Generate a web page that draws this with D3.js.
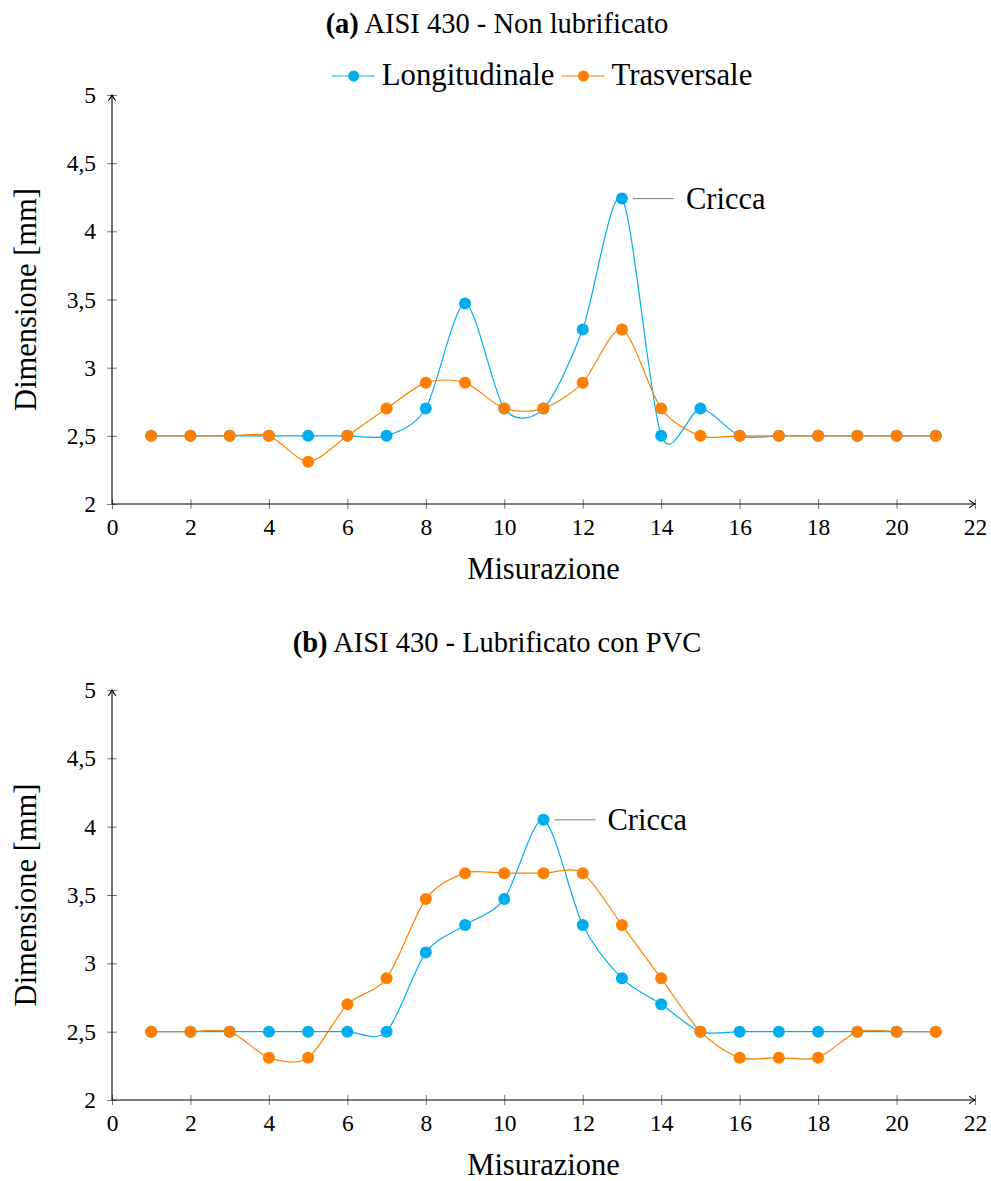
<!DOCTYPE html>
<html>
<head>
<meta charset="utf-8">
<script src="https://cdn.jsdelivr.net/npm/d3@7"></script>
<style>
  html, body { margin: 0; padding: 0; background: #fff; }
  svg { display: block; }
</style>
</head>
<body>
<svg id="chart" width="991" height="1181"></svg>
<script>
// Measurement index (x) and dimensions in mm (y)
const misurazioni = [1,2,3,4,5,6,7,8,9,10,11,12,13,14,15,16,17,18,19,20,21];

// (a) AISI 430 - Non lubrificato
const longitudinaleA = [2.5,2.5,2.5,2.5,2.5,2.5,2.5,2.7,3.47,2.7,2.7,3.28,4.24,2.5,2.7,2.5,2.5,2.5,2.5,2.5,2.5];
const trasversaleA   = [2.5,2.5,2.5,2.5,2.31,2.5,2.7,2.89,2.89,2.7,2.7,2.89,3.28,2.7,2.5,2.5,2.5,2.5,2.5,2.5,2.5];

// (b) AISI 430 - Lubrificato con PVC
const longitudinaleB = [2.5,2.5,2.5,2.5,2.5,2.5,2.5,3.08,3.28,3.47,4.05,3.28,2.89,2.7,2.5,2.5,2.5,2.5,2.5,2.5,2.5];
const trasversaleB   = [2.5,2.5,2.5,2.31,2.31,2.7,2.89,3.47,3.66,3.66,3.66,3.66,3.28,2.89,2.5,2.31,2.31,2.31,2.5,2.5,2.5];

const seriesNames = ["Longitudinale", "Trasversale"];
const seriesColors = ["#00aeef", "#ff8000"];

const xTickValues = [0,2,4,6,8,10,12,14,16,18,20,22];
const yTickValues = [2,2.5,3,3.5,4,4.5,5];
const xDomain = [0, 22];
const yDomain = [2, 5];

const FONT = "'Liberation Serif', 'Times New Roman', 'DejaVu Serif', serif";

const svg = d3.select("#chart");
const defs = svg.append("defs");
defs.append("marker")
  .attr("id", "arrow")
  .attr("viewBox", "-8 -5 10 10")
  .attr("refX", 0).attr("refY", 0)
  .attr("markerWidth", 10).attr("markerHeight", 10)
  .attr("markerUnits", "userSpaceOnUse")
  .attr("orient", "auto")
  .append("path")
  .attr("d", "M-5.5,-3.6 Q-2.2,-0.9 0,0 Q-2.2,0.9 -5.5,3.6")
  .attr("fill", "none").attr("stroke", "#000").attr("stroke-width", 1.1)
  .attr("stroke-linecap", "round");

const fmtTick = d => String(d).replace(".", ",");
const left = 112, right = 975;

function label(sel, size) {
  return sel.style("font-family", FONT).style("font-size", size + "px").attr("fill", "#000");
}

function drawPanel(cfg) {
  const x = d3.scaleLinear().domain(xDomain).range([left, right]);
  const y = d3.scaleLinear().domain(yDomain).range([cfg.bottom, cfg.top]);
  const g = svg.append("g");

  // Title
  const title = label(g.append("text"), 28.5)
    .attr("x", 497).attr("y", cfg.titleY)
    .attr("text-anchor", "middle");
  title.append("tspan").attr("font-weight", "bold").text(cfg.tag);
  title.append("tspan").text(" " + cfg.title);

  // Axes
  const xAxis = d3.axisBottom(x).tickValues(xTickValues).tickFormat(fmtTick)
    .tickSizeInner(5).tickSizeOuter(0).tickPadding(9);
  const yAxis = d3.axisLeft(y).tickValues(yTickValues).tickFormat(fmtTick)
    .tickSizeInner(5).tickSizeOuter(0).tickPadding(11);

  const gx = g.append("g").attr("transform", `translate(0,${cfg.bottom})`).call(xAxis);
  const gy = g.append("g").attr("transform", `translate(${left},0)`).call(yAxis);
  [gx, gy].forEach(a => {
    a.attr("font-family", null).attr("font-size", null);
    a.select(".domain").remove();
    a.selectAll(".tick line").attr("stroke", "#777").attr("stroke-width", 1);
    label(a.selectAll(".tick text"), 23.5);
  });
  gx.selectAll(".tick line").attr("y1", -5).attr("y2", 5);
  gy.selectAll(".tick line").attr("x1", -5).attr("x2", 5);

  // Axis lines with arrow tips
  g.append("line")
    .attr("x1", left).attr("y1", cfg.bottom).attr("x2", right).attr("y2", cfg.bottom)
    .attr("stroke", "#000").attr("stroke-width", 1.1).attr("marker-end", "url(#arrow)");
  g.append("line")
    .attr("x1", left).attr("y1", cfg.bottom).attr("x2", left).attr("y2", cfg.top)
    .attr("stroke", "#000").attr("stroke-width", 1.1).attr("marker-end", "url(#arrow)");

  // Axis labels
  label(g.append("text"), 30.5)
    .attr("x", (left + right) / 2).attr("y", cfg.bottom + 75)
    .attr("text-anchor", "middle")
    .text("Misurazione");
  label(g.append("text"), 30.5)
    .attr("transform", `translate(36,${(cfg.top + cfg.bottom) / 2}) rotate(-90)`)
    .attr("text-anchor", "middle")
    .text("Dimensione [mm]");

  // Smooth lines and markers
  const line = d3.line()
    .x((d, i) => x(misurazioni[i]))
    .y(d => y(d))
    .curve(d3.curveCardinal.tension(0.175));

  cfg.series.forEach((vals, si) => {
    g.append("path")
      .attr("d", line(vals))
      .attr("fill", "none")
      .attr("stroke", seriesColors[si])
      .attr("stroke-width", 1.2);
    g.append("g").selectAll("circle")
      .data(vals)
      .join("circle")
      .attr("cx", (d, i) => x(misurazioni[i]))
      .attr("cy", d => y(d))
      .attr("r", 6)
      .attr("fill", seriesColors[si]);
  });

  // Crack annotation on the longitudinal peak
  const peak = d3.maxIndex(cfg.series[0]);
  const px = x(misurazioni[peak]), py = y(cfg.series[0][peak]);
  g.append("line")
    .attr("x1", px + 11).attr("x2", px + 52)
    .attr("y1", py).attr("y2", py)
    .attr("stroke", "#808080").attr("stroke-width", 1);
  label(g.append("text"), 30.5)
    .attr("x", px + 64).attr("y", py + 10)
    .text("Cricca");

  // Legend
  if (cfg.legend) {
    const lg = g.append("g");
    let cx = 0;
    const ly = cfg.legendY;
    seriesNames.forEach((name, si) => {
      lg.append("line")
        .attr("x1", cx).attr("x2", cx + 43).attr("y1", ly).attr("y2", ly)
        .attr("stroke", seriesColors[si]).attr("stroke-width", 1.2);
      lg.append("circle")
        .attr("cx", cx + 22).attr("cy", ly).attr("r", 5.5)
        .attr("fill", seriesColors[si]);
      const t = label(lg.append("text"), 30.8)
        .attr("x", cx + 50).attr("y", ly + 9)
        .text(name);
      cx += 50 + t.node().getComputedTextLength() + 7;
    });
    const w = cx - 7;
    lg.attr("transform", `translate(${542 - w / 2},0)`);
  }
}

drawPanel({
  tag: "(a)", title: "AISI 430 - Non lubrificato",
  titleY: 33, top: 95, bottom: 504, legend: true, legendY: 76,
  series: [longitudinaleA, trasversaleA]
});
drawPanel({
  tag: "(b)", title: "AISI 430 - Lubrificato con PVC",
  titleY: 652, top: 690, bottom: 1100, legend: false,
  series: [longitudinaleB, trasversaleB]
});
</script>
</body>
</html>
